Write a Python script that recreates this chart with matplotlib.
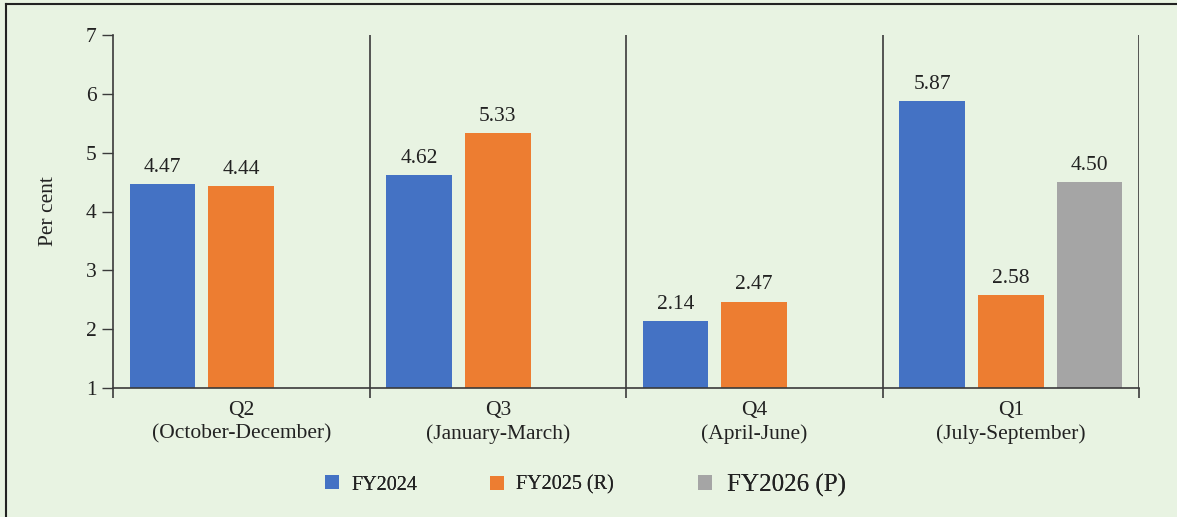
import matplotlib
matplotlib.use("Agg")
import matplotlib.pyplot as plt
import numpy as np

# ── data ─────────────────────────────────────────────────────────────────────
quarters = ["Q2\n(October-December)", "Q3\n(January-March)",
            "Q4\n(April-June)", "Q1\n(July-September)"]
series_names = ["FY2024", "FY2025 (R)", "FY2026 (P)"]
fy2024 = [4.47, 4.62, 2.14, 5.87]
fy2025 = [4.44, 5.33, 2.47, 2.58]
fy2026 = [np.nan, np.nan, np.nan, 4.50]

# ── style ────────────────────────────────────────────────────────────────────
BG = "#E8F3E2"
COLORS = ["#4472C4", "#ED7D31", "#A5A5A5"]
INK = "#222222"
AX_C = "#3a3a3a"
plt.rcParams["font.family"] = ["Liberation Serif", "DejaVu Serif"]
FS = 15.5

W, H = 1177, 517
fig = plt.figure(figsize=(W / 100, H / 100), dpi=100)
fig.patch.set_facecolor(BG)
ax = fig.add_axes([113 / W, 1 - 388 / H, (1139 - 113) / W, (388 - 35) / H])
ax.set_facecolor(BG)

x = np.arange(len(quarters)) + 0.5
step = 0.307
bw = 0.257
for i, (vals, c) in enumerate(zip([fy2024, fy2025, fy2026], COLORS)):
    ax.bar(x + (i - 1) * step, np.array(vals) - 1, bottom=1, width=bw,
           color=c, label=series_names[i], zorder=2)
    for xi, v in zip(x + (i - 1) * step, vals):
        if not np.isnan(v):
            ax.text(xi, v + 0.12, f"{v:.2f}", ha="center", va="bottom",
                    fontsize=FS, color=INK)

ax.set_xlim(0, 4)
ax.set_ylim(1, 7)
ax.set_yticks(range(1, 8))
ax.set_xticks(range(0, 5))
ax.set_xticklabels([])
ax.set_xticks(x, minor=True)
ax.set_xticklabels(quarters, minor=True, fontsize=FS, color=INK,
                   linespacing=1.3)
ax.tick_params(axis="x", which="minor", length=0, pad=9)
ax.tick_params(axis="x", which="major", direction="out", length=7,
               width=1.2, color=AX_C)
ax.tick_params(axis="y", direction="out", length=8, width=1.0, color=AX_C,
               labelsize=FS, labelcolor=INK, pad=4)
for s in ["top", "right"]:
    ax.spines[s].set_visible(False)
for s in ["left", "bottom"]:
    ax.spines[s].set_color(AX_C)
    ax.spines[s].set_linewidth(1.2)
for xs in range(1, 5):
    ax.axvline(xs, color=AX_C, lw=1.2, zorder=1)

ax.set_ylabel("Per cent", fontsize=FS, color=INK, labelpad=20)

# legend: one entry each, placed at the reference positions
handles, labels = ax.get_legend_handles_labels()
leg_x = [325, 490, 698]
leg_fs = [FS - 1, FS - 1, FS + 2.5]
for h, l, lx, fs in zip(handles, labels, leg_x, leg_fs):
    lg = fig.legend([h], [l], loc="center left",
                    bbox_to_anchor=(lx / W, 1 - 485 / H), frameon=False,
                    fontsize=fs, handlelength=14 / (fs * 1.389),
                    handleheight=14 / (fs * 1.389), handletextpad=0.6,
                    borderaxespad=0, borderpad=0)
    for t in lg.get_texts():
        t.set_color(INK)
    fig.add_artist(lg)

# partial frame of the panel
fig.add_artist(plt.Line2D([6 / W, 6 / W], [0, 1 - 4 / H], color="#222",
                          lw=1.5, transform=fig.transFigure))
fig.add_artist(plt.Line2D([6 / W, 1], [1 - 4 / H, 1 - 4 / H], color="#222",
                          lw=1.5, transform=fig.transFigure))

fig.savefig("out.png", dpi=100, facecolor=BG)
